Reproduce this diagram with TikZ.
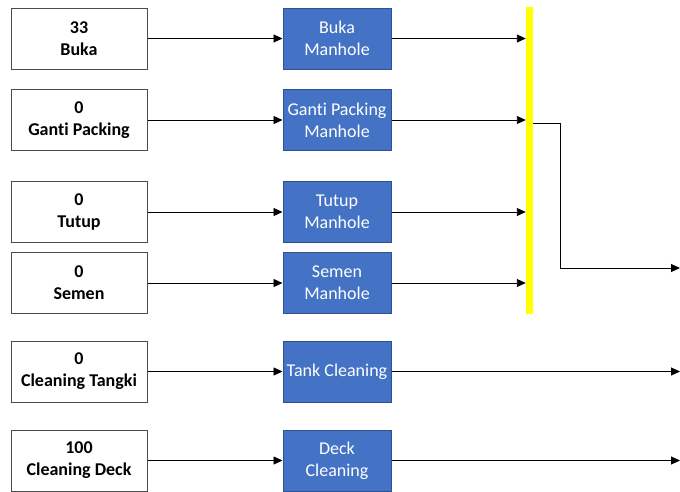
\documentclass[tikz,border=0pt]{standalone}
\usepackage{fontspec}
\setmainfont{Carlito}[Ligatures=NoCommon]
\usetikzlibrary{arrows.meta}
\definecolor{boxblue}{HTML}{4472C4}
\definecolor{boxblueedge}{HTML}{2F528F}
\definecolor{baryellow}{HTML}{FFFF00}
\tikzset{
  srcbox/.style={draw=black!70, line width=1pt, fill=white, minimum width=136pt, minimum height=61pt, align=center, font=\fontsize{18}{22}\selectfont\bfseries, inner sep=0pt},
  procbox/.style={draw=boxblueedge, line width=1pt, fill=boxblue, text=white, minimum width=108pt, minimum height=61pt, align=center, font=\fontsize{18}{22}\selectfont, inner sep=0pt},
  arr/.style={draw=black, line width=0.9pt, -{Triangle[length=9pt,width=8pt]}}
}
\begin{document}
\begin{tikzpicture}[x=1pt,y=-1pt]
\useasboundingbox (0,0) rectangle (680,491);
% source boxes
\node[srcbox] (l1) at (79,38.5) {33\\Buka};
\node[srcbox] (l2) at (79,120) {0\\Ganti Packing};
\node[srcbox] (l3) at (79,212) {0\\Tutup};
\node[srcbox] (l4) at (79,283) {0\\Semen};
\node[srcbox] (l5) at (79,371.5) {0\\Cleaning Tangki};
\node[srcbox] (l6) at (79,460.5) {100\\Cleaning Deck};
% process boxes
\node[procbox] (b1) at (337,38.5) {Buka\\Manhole};
\node[procbox] (b2) at (337,120) {Ganti Packing\\Manhole};
\node[procbox] (b3) at (337,212) {Tutup\\Manhole};
\node[procbox] (b4) at (337,283) {Semen\\Manhole};
\node[procbox] (b5) at (337,371.5) {Tank Cleaning};
\node[procbox] (b6) at (337,460.5) {Deck\\Cleaning};
% yellow bar
\node[fill=baryellow, minimum width=7pt, minimum height=307pt, inner sep=0pt] (bar) at (529.5,160.5) {};
% end coordinates
\coordinate (o1) at (533,123);
\coordinate (o2) at (680,268);
\coordinate (e5) at (680,371.5);
\coordinate (e6) at (680,460.5);
% connectors
\foreach \i in {1,...,6} {\draw[arr] (l\i.east) -- (b\i.west);}
\foreach \i in {1,...,4} {\draw[arr] (b\i.east) -- (b\i.east -| bar.west);}
\draw[arr] (o1) -| (560,268) -- (o2);
\draw[arr] (b5.east) -- (e5);
\draw[arr] (b6.east) -- (e6);
\end{tikzpicture}
\end{document}
